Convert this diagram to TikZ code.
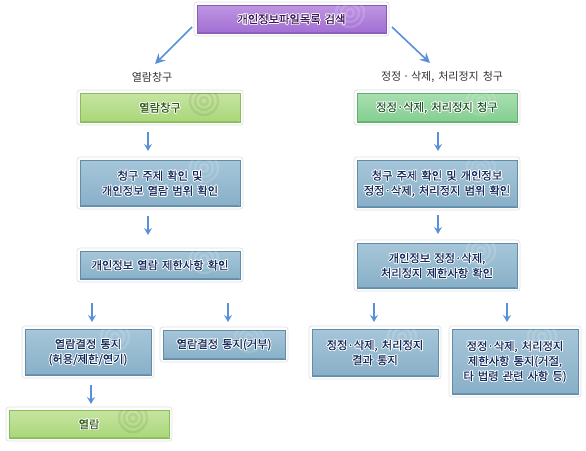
\documentclass[tikz,border=0pt]{standalone}
\usepackage{fontspec}
\setmainfont[WordSpace=1.6]{Noto Sans CJK KR}
\newfontfamily\boxfont[WordSpace=1.6,FakeBold=0.5]{Noto Sans CJK KR}
\usepackage{contour}
\contourlength{0.8pt}
\contournumber{12}
\usetikzlibrary{calc,arrows.meta}
\definecolor{arrowblue}{HTML}{5A90DA}
\definecolor{framegray}{HTML}{E2E2E2}
\definecolor{purtop}{HTML}{BE95E2}
\definecolor{purbot}{HTML}{A26FD3}
\definecolor{puredge}{HTML}{8A5CBA}
\definecolor{purtxt}{HTML}{3C145A}
\definecolor{lgtop}{HTML}{C6E5A0}
\definecolor{lgbot}{HTML}{A9D67A}
\definecolor{lgedge}{HTML}{8ABD5A}
\definecolor{lgtxt}{HTML}{2F5A12}
\definecolor{mgtop}{HTML}{A8DFB0}
\definecolor{mgbot}{HTML}{84CE90}
\definecolor{mgedge}{HTML}{62B070}
\definecolor{mgtxt}{HTML}{1F5A2A}
\definecolor{bltop}{HTML}{A6C6D9}
\definecolor{blbot}{HTML}{88B0C8}
\definecolor{bledge}{HTML}{5F8DAA}
\definecolor{bltxt}{HTML}{132A5C}
\definecolor{labeltxt}{HTML}{333333}
\tikzset{
  frame/.style={fill=white, draw=framegray, line width=0.8pt, rounded corners=3pt},
  purplebox/.style={top color=purtop, bottom color=purbot, draw=puredge, line width=0.6pt},
  purpletext/.style={text=purtxt},
  lgreenbox/.style={top color=lgtop, bottom color=lgbot, draw=lgedge, line width=0.6pt},
  lgreentext/.style={text=lgtxt},
  mgreenbox/.style={top color=mgtop, bottom color=mgbot, draw=mgedge, line width=0.6pt},
  mgreentext/.style={text=mgtxt},
  bluebox/.style={top color=bltop, bottom color=blbot, draw=bledge, line width=0.6pt},
  bluetext/.style={text=bltxt},
  ring/.style={line width=2.4pt},
  boxtext/.style={align=center, inner sep=0pt, font=\boxfont\fontsize{11.3pt}{15pt}\selectfont},
  lbl/.style={text=labeltxt, inner sep=0pt, font=\fontsize{11pt}{15pt}\selectfont},
  arr/.style={draw=arrowblue, line width=1.5pt, -{Stealth[length=7pt,width=8pt,inset=2.5pt]}},
  bigarr/.style={draw=arrowblue, line width=1.6pt, -{Stealth[length=10pt,width=10pt,inset=3.5pt]}}
}
% #1 name, #2 type, #3 x1, #4 y1, #5 x2, #6 y2, #7 ring style, #8 text
\newcommand\flowbox[8]{%
  \draw[frame] (#3-3,#4-3) rectangle (#5+3,#6+3);
  \path[#2box] (#3,#4) rectangle (#5,#6);
  \draw[#2box, fill=none, shading=none, line width=1.4pt, draw opacity=0.8] (#3+0.7,#6-0.7) -- (#5-0.7,#6-0.7);
  \begin{scope}
    \clip (#3,#4) rectangle (#5,#6);
    \foreach \r in {4,9,14} {\draw[ring, #7] (#5-36,#4+8) circle (\r);}
  \end{scope}
  \node[boxtext, #2text] (#1) at ({(#3+#5)/2},{(#4+#6)/2+0.5}) {#8};
}
\newcommand\ct[1]{\contour{white}{#1}}
\begin{document}
\begin{tikzpicture}[x=1pt,y=-1pt]
\useasboundingbox[fill=white] (0,0) rectangle (586,450);

\flowbox{top}{purple}{197}{5}{386}{33}{draw=white,opacity=0.15}{\ct{개인정보파일목록 검색}}
\flowbox{gl}{lgreen}{80}{93}{240}{122}{draw=black,opacity=0.07}{\ct{열람창구}}
\flowbox{gr}{mgreen}{357}{93}{517}{122}{draw=white,opacity=0.12}{\ct{정정·삭제, 처리정지 청구}}
\flowbox{bl1}{blue}{80}{160}{240}{206}{draw=white,opacity=0.15}{\ct{청구 주제 확인 및}\\\ct{개인정보 열람 범위 확인}}
\flowbox{bl2}{blue}{80}{251}{240}{279}{draw=white,opacity=0.15}{\ct{개인정보 열람 제한사항 확인}}
\flowbox{br1}{blue}{357}{160}{517}{207}{draw=white,opacity=0.1}{\ct{청구 주제 확인 및 개인정보}\\\ct{정정·삭제, 처리정지 범위 확인}}
\flowbox{br2}{blue}{357}{243}{517}{288}{draw=white,opacity=0.15}{\ct{개인정보 정정·삭제,}\\\ct{처리정지 제한사항 확인}}
\flowbox{bl3}{blue}{25}{329}{151}{375}{draw=white,opacity=0.15}{\ct{열람결정 통지}\\\ct{(허용/제한/연기)}}
\flowbox{bm3}{blue}{163}{330}{285}{359}{draw=white,opacity=0.1}{\ct{열람결정 통지(거부)}}
\flowbox{br3}{blue}{312}{329}{438}{376}{draw=white,opacity=0.15}{\ct{정정·삭제, 처리정지}\\\ct{결과 통지}}
\flowbox{br4}{blue}{452}{329}{578}{394}{draw=white,opacity=0.15}{\ct{정정·삭제, 처리정지}\\\ct{제한사항 통지(거절,}\\\ct{타 법령 관련 사항 등)}}
\flowbox{gl2}{lgreen}{9}{410}{169}{438}{draw=black,opacity=0.07}{\ct{열람}}

\node[lbl] (lbll) at (152,77) {열람창구};
\node[lbl] (lblr) at (442,77) {정정\,·\,삭제,\ 처리정지 청구};

% arrow end points
\coordinate (d1s) at (192,27);  \coordinate (d1e) at (155,64);
\coordinate (d2s) at (392,27);  \coordinate (d2e) at (430,63);
\coordinate (l1s) at (148,132); \coordinate (l1e) at (148,151);
\coordinate (l2s) at (148,216); \coordinate (l2e) at (148,235);
\coordinate (r1s) at (438,132); \coordinate (r1e) at (438,151);
\coordinate (r2s) at (438,215); \coordinate (r2e) at (438,234);
\coordinate (a1s) at (92,303);  \coordinate (a1e) at (92,322);
\coordinate (a2s) at (228,303); \coordinate (a2e) at (228,322);
\coordinate (a3s) at (374,303); \coordinate (a3e) at (374,322);
\coordinate (a4s) at (507,303); \coordinate (a4e) at (507,322);
\coordinate (a5s) at (91,385);  \coordinate (a5e) at (91,404);

\draw[bigarr] (d1s) -- (d1e);
\draw[bigarr] (d2s) -- (d2e);
\foreach \p in {l1,l2,r1,r2,a1,a2,a3,a4,a5} {\draw[arr] (\p s) -- (\p e);}
\end{tikzpicture}
\end{document}
